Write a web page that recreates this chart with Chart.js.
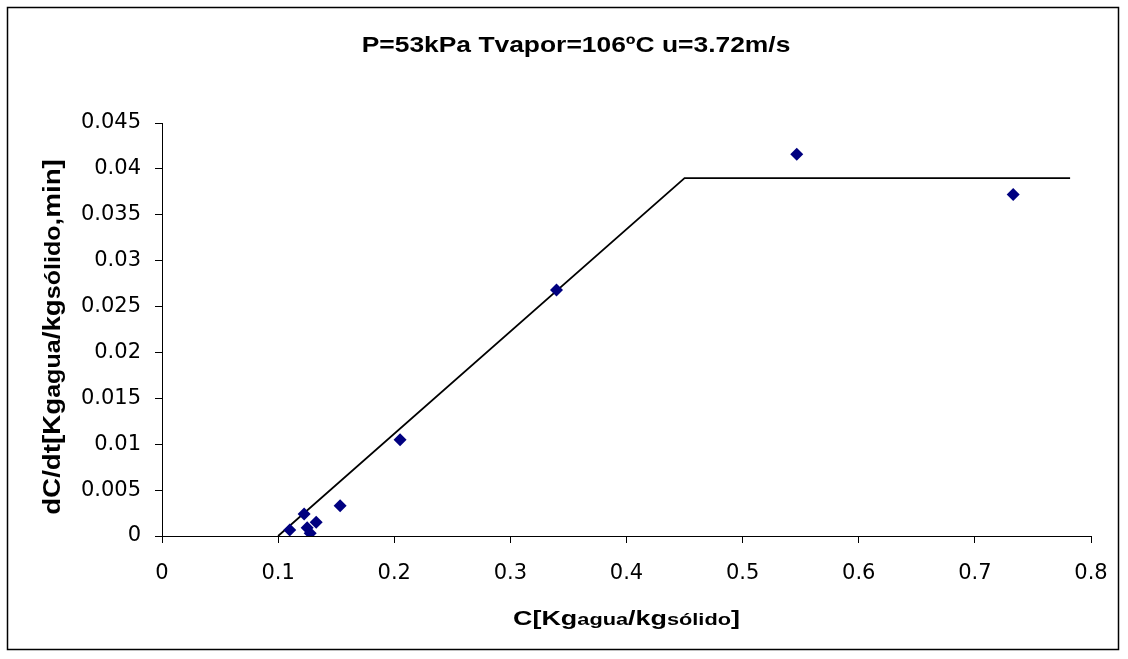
<!DOCTYPE html>
<html>
<head>
<meta charset="utf-8">
<script src="https://cdn.jsdelivr.net/npm/chart.js@4.4.1/dist/chart.umd.min.js"></script>
<style>
html,body{margin:0;padding:0;background:#fff;}
#wrap{position:relative;width:1128px;height:659px;}
</style>
</head>
<body>
<div id="wrap"><canvas id="c" width="1128" height="659"></canvas></div>
<script>
const titleText = 'P=53kPa Tvapor=106ºC u=3.72m/s';
const measuredX = [0.110, 0.1224, 0.125, 0.1276, 0.1328, 0.1534, 0.205, 0.3397, 0.5466, 0.733];
const measuredY = [0.00066, 0.0024, 0.0009, 0.0003, 0.0015, 0.0033, 0.0105, 0.0268, 0.0416, 0.0372];
const fitX = [0.1, 0.45, 0.782];
const fitY = [0.0, 0.039, 0.039];
const xTicks = [0, 0.1, 0.2, 0.3, 0.4, 0.5, 0.6, 0.7, 0.8];
const yTicks = [0, 0.005, 0.01, 0.015, 0.02, 0.025, 0.03, 0.035, 0.04, 0.045];
const xTitleParts = [['C[Kg', 'L'], ['agua', 'S'], ['/kg', 'L'], ['sólido', 'S'], [']', 'L']];
const yTitleParts = [['dC/dt[Kg', 'L'], ['agua', 'S'], ['/kg', 'L'], ['sólido', 'S'], [',min]', 'L']];

const FONT = '"Liberation Sans", Arial, sans-serif';
const TICKFONT = '"DejaVu Sans", sans-serif';

// draws mixed-size bold text centred on cx at baseline; stretch along text (sx) and across (sy)
function drawRich(ctx, parts, cx, baseY, rot, sx, sy, sizes) {
  ctx.save();
  ctx.translate(cx, baseY);
  if (rot) ctx.rotate(-Math.PI / 2);
  ctx.scale(sx, sy);
  let total = 0;
  const widths = parts.map(p => {
    ctx.font = 'bold ' + sizes[p[1]] + 'px ' + FONT;
    const w = ctx.measureText(p[0]).width;
    total += w;
    return w;
  });
  let x = -total / 2;
  ctx.fillStyle = '#000';
  ctx.textBaseline = 'alphabetic';
  ctx.textAlign = 'left';
  parts.forEach((p, i) => {
    ctx.font = 'bold ' + sizes[p[1]] + 'px ' + FONT;
    ctx.fillText(p[0], x, 0);
    x += widths[i];
  });
  ctx.restore();
}

const decor = {
  id: 'decor',
  beforeDraw(chart) {
    const ctx = chart.ctx;
    ctx.save();
    ctx.fillStyle = '#fff';
    ctx.fillRect(0, 0, chart.width, chart.height);
    ctx.strokeStyle = '#000';
    ctx.lineWidth = 1.5;
    ctx.strokeRect(7.5, 7.5, 1111, 642);
    ctx.restore();
  },
  afterDraw(chart) {
    const ctx = chart.ctx;
    ctx.save();
    ctx.translate(576, 52);
    ctx.scale(1.2, 1);
    ctx.font = 'bold 22px ' + FONT;
    ctx.fillStyle = '#000';
    ctx.textAlign = 'center';
    ctx.textBaseline = 'alphabetic';
    ctx.fillText(titleText, 0, 0);
    ctx.restore();
    const a = chart.chartArea;
    drawRich(ctx, xTitleParts, (a.left + a.right) / 2, 625, false, 1.28, 1, {L: 21, S: 17});
    drawRich(ctx, yTitleParts, 60, 337, true, 1.32, 1.15, {L: 21, S: 19});
  }
};

const points = measuredX.map((x, i) => ({x: x, y: measuredY[i]}));
const fit = fitX.map((x, i) => ({x: x, y: fitY[i]}));

new Chart(document.getElementById('c'), {
  type: 'scatter',
  data: {
    datasets: [
      {
        label: 'fit',
        data: fit,
        showLine: true,
        borderColor: '#000',
        borderWidth: 1.8,
        pointRadius: 0,
        fill: false,
        order: 2
      },
      {
        label: 'datos',
        data: points,
        pointStyle: 'rectRot',
        pointRadius: 6.5,
        backgroundColor: '#000080',
        borderColor: '#000080',
        borderWidth: 0,
        order: 1
      }
    ]
  },
  options: {
    responsive: false,
    animation: false,
    devicePixelRatio: 1,
    layout: {padding: {left: 0, right: 37, top: 123, bottom: 0}},
    plugins: {legend: {display: false}, tooltip: {enabled: false}, title: {display: false}},
    scales: {
      x: {
        type: 'linear',
        min: 0, max: 0.8,
        afterBuildTicks: s => { s.ticks = xTicks.map(v => ({value: v})); },
        afterFit: s => { s.height = 123; },
        grid: {display: true, drawOnChartArea: false, drawTicks: true, tickLength: 7, color: '#000', lineWidth: 1},
        border: {display: true, color: '#000', width: 1},
        ticks: {color: '#000', font: {family: TICKFONT, size: 21}, padding: 18, maxRotation: 0,
          callback: v => String(v)}
      },
      y: {
        type: 'linear',
        min: 0, max: 0.045,
        afterBuildTicks: s => { s.ticks = yTicks.map(v => ({value: v})); },
        afterFit: s => { s.width = 162; },
        grid: {display: true, drawOnChartArea: false, drawTicks: true, tickLength: 7, color: '#000', lineWidth: 1},
        border: {display: true, color: '#000', width: 1},
        ticks: {color: '#000', font: {family: TICKFONT, size: 21}, padding: 14,
          callback: v => String(v)}
      }
    }
  },
  plugins: [decor]
});
</script>
</body>
</html>
